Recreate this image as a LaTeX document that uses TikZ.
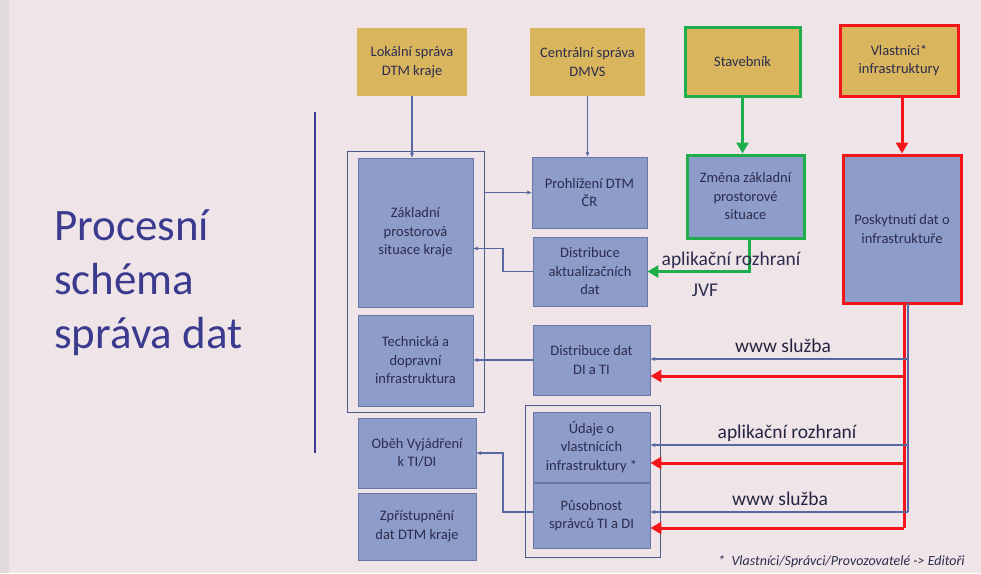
\documentclass[tikz,border=0pt]{standalone}
\usepackage{fontspec}
\setmainfont{Carlito}
\usetikzlibrary{arrows.meta,calc}
\definecolor{bg}{HTML}{EFE5E8}
\definecolor{boxblue}{HTML}{8E9CCA}
\definecolor{boxline}{HTML}{6A78A8}
\definecolor{tan}{HTML}{D9B65E}
\definecolor{txt}{HTML}{2C2C4E}
\definecolor{conn}{HTML}{5868A0}
\definecolor{frameline}{HTML}{4C5A8E}
\definecolor{gr}{HTML}{1EAE4C}
\definecolor{rd}{HTML}{F2161A}
\definecolor{title}{HTML}{3A3A8E}
\tikzset{
  boxtext/.style={align=center, text=txt, font=\fontsize{14.5}{18.5}\selectfont, inner sep=2pt},
  bluebox/.style={boxtext, draw=boxline, fill=boxblue, line width=0.8pt},
  tanbox/.style={boxtext, draw=none, fill=tan},
  gbox/.style={draw=gr, line width=3pt},
  rbox/.style={draw=rd, line width=3pt},
  frm/.style={draw=frameline, line width=1pt},
  connarrow/.style={draw=conn, line width=1.2pt, -{Stealth[length=5pt,width=4pt]}},
  connline/.style={draw=conn, line width=1.2pt},
  garrow/.style={draw=gr, line width=3pt, -{Triangle[length=11pt,width=12pt]}},
  rarrow/.style={draw=rd, line width=3pt, -{Triangle[length=11pt,width=12pt]}},
  rline/.style={draw=rd, line width=3pt},
  lbl/.style={text=txt!85!black, font=\fontsize{19.5}{22}\selectfont, inner sep=0pt},
}
\begin{document}
\begin{tikzpicture}[x=1pt,y=-1pt]
\useasboundingbox (0,0) rectangle (981,573);
\fill[bg] (0,0) rectangle (981,573);
\fill[black!18, opacity=0.5] (0,0) rectangle (9,573);

% title and separator
\node[text=title, font=\fontsize{45}{54}\selectfont, align=left, anchor=north west, inner sep=0pt] (title) at (54,210) {Procesní\\schéma\\správa dat};
\coordinate (sepT) at (315,112);
\coordinate (sepB) at (315,453);
\draw[draw=title, line width=1.2pt] (sepT) -- (sepB);

% top boxes
\node[tanbox, minimum width=110pt, minimum height=68pt] (lok) at (412,62) {Lokální správa\\DTM kraje};
\node[tanbox, minimum width=115pt, minimum height=68pt] (cen) at (587.5,62) {Centrální správa\\DMVS};
\node[tanbox, gbox, minimum width=115pt, minimum height=69pt] (stav) at (742.5,61.5) {Stavebník};
\node[tanbox, rbox, minimum width=118pt, minimum height=71pt] (vla) at (899,60.5) {Vlastníci*\\infrastruktury};

% frames
\node[frm, minimum width=137pt, minimum height=261pt, inner sep=0pt] (frame1) at (415.5,281.5) {};
\node[frm, minimum width=135pt, minimum height=152pt, inner sep=0pt] (frame2) at (592.5,481) {};

% blue boxes
\node[bluebox, minimum width=115pt, minimum height=149pt] (zak) at (415.5,232.5) {Základní\\prostorová\\situace kraje};
\node[bluebox, minimum width=115pt, minimum height=91pt] (tech) at (415.5,360.5) {Technická a\\dopravní\\infrastruktura};
\node[bluebox, minimum width=115pt, minimum height=71pt] (proh) at (589.5,192.5) {Prohlížení DTM\\ČR};
\node[bluebox, minimum width=114pt, minimum height=69pt] (dakt) at (590,271.5) {Distribuce\\aktualizačních\\dat};
\node[bluebox, minimum width=117pt, minimum height=70pt] (ddi) at (591.5,360) {Distribuce dat\\DI a TI};
\node[bluebox, minimum width=117pt, minimum height=70pt] (udaje) at (591.5,447) {Údaje o\\vlastnících\\infrastruktury *};
\node[bluebox, minimum width=117pt, minimum height=65pt] (pusob) at (591.5,515.5) {Působnost\\správců TI a DI};
\node[bluebox, minimum width=118pt, minimum height=70pt] (obeh) at (417,453) {Oběh Vyjádření\\k TI/DI};
\node[bluebox, minimum width=118pt, minimum height=67pt] (zpr) at (417,526.5) {Zpřístupnění\\dat DTM kraje};
\node[bluebox, gbox, minimum width=117pt, minimum height=83pt] (zmena) at (745.5,196.5) {Změna základní\\prostorové\\situace};
\node[bluebox, rbox, minimum width=118pt, minimum height=148pt] (posk) at (902,229) {Poskytnutí dat o\\infrastruktuře};

% blue connectors
\draw[connarrow] (lok.south) -- (lok.south |- zak.north);
\draw[connarrow] (cen.south) -- (cen.south |- proh.north);
\draw[connarrow] (frame1.east |- proh.west) -- (proh.west);
\coordinate (dk) at (503,271.5);
\draw[connarrow] (dakt.west) -- (dk) |- ([yshift=-16pt]zak.east);
\draw[connarrow] (ddi.west) -- (ddi.west -| tech.east);
\coordinate (pk) at (503,512);
\draw[connarrow] (pusob.west |- pk) -- (pk) |- (obeh.east);

% green connectors
\draw[garrow] (stav.south) -- (stav.south |- zmena.north);
\coordinate (gk) at (749,271.5);
\draw[garrow] (zmena.south -| gk) -- (gk) -- (dakt.east);
\node[lbl, text=txt, anchor=base] (glbl) at (731,265) {aplikační rozhraní};
\node[lbl, text=txt, anchor=base] (jvf) at (705,296) {JVF};

% red connectors
\draw[rarrow] (posk.north |- vla.south) -- (posk.north);
\coordinate (r0) at (904,303);
\coordinate (r1) at (904,376);
\coordinate (r2) at (904,463);
\coordinate (r3) at (904,528);
\draw[rline] (r0) -- (r3);
\draw[rarrow] (r1) -- (r1 -| ddi.east);
\draw[rarrow] (r2) -- (r2 -| udaje.east);
\draw[rarrow] (r3) -- (r3 -| pusob.east);

% blue service lines
\coordinate (b0) at (908,303);
\coordinate (b1) at (908,359);
\coordinate (b2) at (908,445);
\coordinate (b3) at (908,512);
\draw[connline] (b0) -- (b3);
\draw[connarrow] (b1) -- (b1 -| ddi.east);
\draw[connarrow] (b2) -- (b2 -| udaje.east);
\draw[connarrow] (b3) -- (b3 -| pusob.east);
\node[lbl, anchor=base] (w1) at (783,352) {www služba};
\node[lbl, anchor=base] (a1) at (787,438) {aplikační rozhraní};
\node[lbl, anchor=base] (w2) at (780,505) {www služba};

% footnote
\node[anchor=base west, text=txt, font=\fontsize{14}{16}\itshape, inner sep=0pt] (fn) at (718,565) {*\ \ Vlastníci/Správci/Provozovatelé -> Editoři};
\end{tikzpicture}
\end{document}
